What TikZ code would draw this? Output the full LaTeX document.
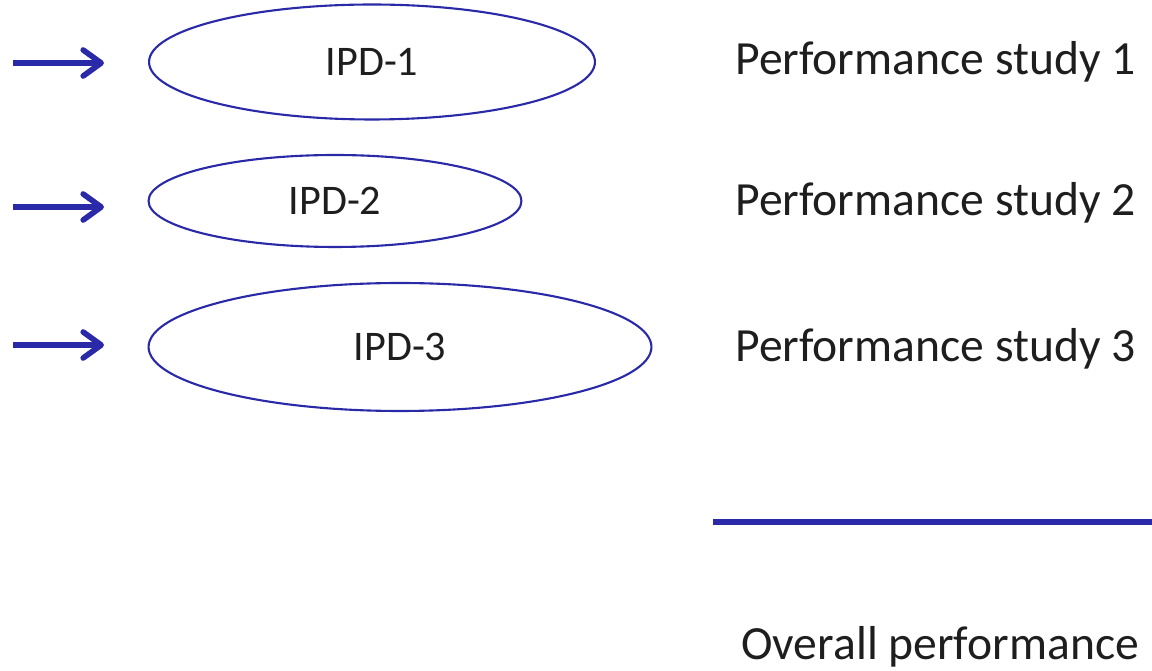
\documentclass[tikz,border=0pt]{standalone}
\usepackage{fontspec}
\setmainfont{Carlito}
\usetikzlibrary{shapes.geometric,arrows.meta,positioning}
\definecolor{IB}{HTML}{2A2AA8}
\definecolor{TX}{HTML}{1E1E1E}

\begin{document}
\begin{tikzpicture}[x=0.02cm,y=-0.02cm,
    ipd/.style={ellipse,draw=IB,line width=1.2pt,inner sep=0pt,
      text=TX,font=\fontsize{24}{28}\selectfont},
    study/.style={anchor=base west,inner sep=0pt,text=TX,
      font=\fontsize{27.1}{32}\selectfont},
    feed/.style={draw=IB,line width=3.2pt,
      -{Straight Barb[length=0.36cm,width=0.52cm,line join=round,line cap=round]}}]
  \useasboundingbox (0,0) rectangle (1152,671);
  % the three IPD sets
  \node[ipd,minimum width=8.92cm,minimum height=2.3cm] (ipd1) at (372,62) {IPD-1};
  \node[ipd,minimum width=7.46cm,minimum height=1.84cm] (ipd2) at (335,201) {IPD-2};
  \node[ipd,minimum width=10.06cm,minimum height=2.56cm] (ipd3) at (400,347) {IPD-3};
  % incoming arrows and study labels
  \foreach \i/\ya/\yb in {1/63/75,2/207/216,3/345/362}{
    \coordinate (in\i) at (13,\ya);
    \coordinate (tip\i) at (104,\ya);
    \draw[feed] (in\i) -- (tip\i);
    \node[study] (ps\i) at (735,\yb) {Performance study \i};
  }
  % summary bar
  \coordinate (barL) at (713,522);
  \coordinate (barR) at (1152,522);
  \draw[IB,line width=3.4pt] (barL) -- (barR);
  \node[study] (overall) at (741,659) {Overall performance};
\end{tikzpicture}
\end{document}
